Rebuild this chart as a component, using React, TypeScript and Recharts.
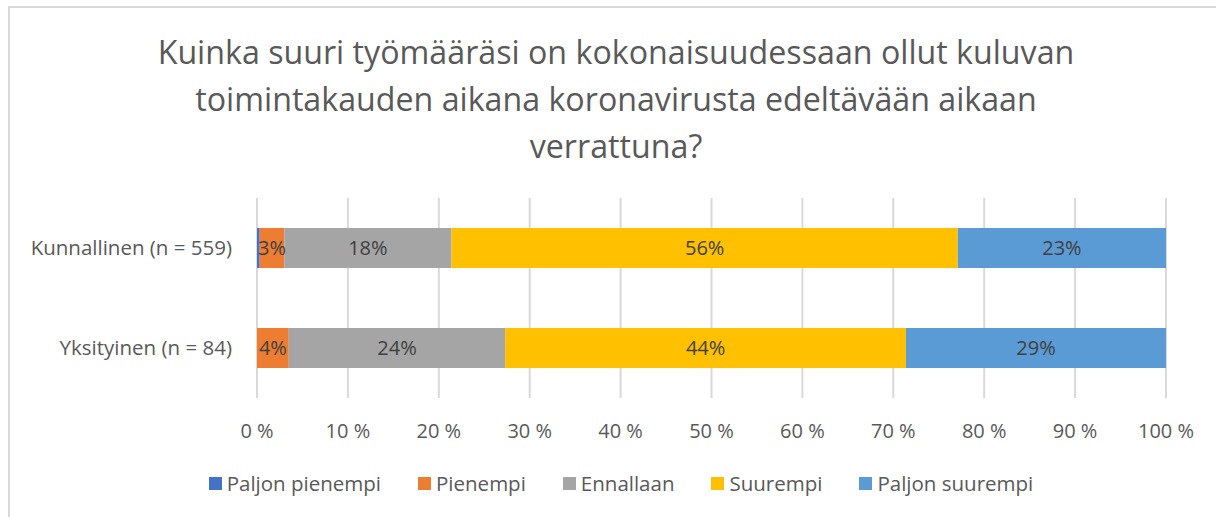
import { Bar, BarChart, CartesianGrid, LabelList, Legend, XAxis, YAxis } from "recharts";

const categories = ["Kunnallinen (n = 559)", "Yksityinen (n = 84)"];
const seriesNames = ["Paljon pienempi", "Pienempi", "Ennallaan", "Suurempi", "Paljon suurempi"];
const paljonPienempi = [0.3, 0];
const pienempi = [2.7, 3.5];
const ennallaan = [18.4, 23.8];
const suurempi = [55.7, 44.1];
const paljonSuurempi = [22.9, 28.6];
const xTicks = [0, 10, 20, 30, 40, 50, 60, 70, 80, 90, 100];

const colors = ["#4472C4", "#ED7D31", "#A5A5A5", "#FFC000", "#5B9BD5"];
const values = [paljonPienempi, pienempi, ennallaan, suurempi, paljonSuurempi];

const data = categories.map((name, i) => {
  const row: Record<string, string | number> = { name };
  seriesNames.forEach((s, j) => (row[s] = values[j][i]));
  return row;
});

const FONT = "'Open Sans', sans-serif";
const TEXT = "#595959";

function LegendContent() {
  return (
    <div
      style={{
        display: "flex",
        justifyContent: "center",
        paddingLeft: 26,
        fontFamily: FONT,
        fontSize: 20.5,
        color: TEXT,
      }}
    >
      {seriesNames.map((s, i) => (
        <div key={s} style={{ display: "flex", alignItems: "center", marginRight: i < seriesNames.length - 1 ? 37 : 0 }}>
          <span style={{ width: 13, height: 13, background: colors[i], marginRight: 5, display: "inline-block" }} />
          <span>{s}</span>
        </div>
      ))}
    </div>
  );
}

export default function App() {
  return (
    <div style={{ position: "absolute", left: 0, top: 0, width: 1216, height: 517, background: "#fff", overflow: "hidden" }}>
      <style>{"body{margin:0;overflow:hidden}"}</style>
      <div
        style={{
          position: "absolute",
          left: 8,
          top: 6,
          width: 1216,
          height: 517,
          borderTop: "2px solid #D9D9D9",
          borderLeft: "2px solid #D9D9D9",
        }}
      />
      <div
        style={{
          position: "absolute",
          left: 0,
          top: 28,
          width: 1232,
          textAlign: "center",
          fontFamily: FONT,
          fontSize: 32.2,
          lineHeight: "47px",
          color: TEXT,
        }}
      >
        Kuinka suuri työmääräsi on kokonaisuudessaan ollut kuluvan
        <br />
        toimintakauden aikana koronavirusta edeltävään aikaan
        <br />
        verrattuna?
      </div>
      <BarChart
        width={1216}
        height={517}
        data={data}
        layout="vertical"
        margin={{ top: 198, right: 50, bottom: 79, left: 0 }}
        style={{ position: "absolute", left: 0, top: 0 }}
      >
        <CartesianGrid horizontal={false} stroke="#D9D9D9" strokeWidth={2} />
        <XAxis
          type="number"
          domain={[0, 100]}
          ticks={xTicks}
          tickFormatter={(v) => `${v} %`}
          axisLine={false}
          tickLine={false}
          tickSize={0}
          tickMargin={26}
          height={40}
          tick={{ fontSize: 20, fill: TEXT, fontFamily: FONT }}
          interval={0}
        />
        <YAxis
          type="category"
          dataKey="name"
          width={257}
          axisLine={false}
          tickLine={false}
          tickSize={0}
          tickMargin={25}
          tick={{ fontSize: 20.5, fill: TEXT, fontFamily: FONT }}
        />
        <Legend
          layout="horizontal"
          verticalAlign="middle"
          align="center"
          wrapperStyle={{ top: 469, left: 0, width: 1216 }}
          content={() => <LegendContent />}
        />
        {seriesNames.map((s, i) => (
          <Bar key={s} dataKey={s} stackId="a" fill={colors[i]} barSize={40} isAnimationActive={false}>
            {i > 0 && (
              <LabelList
                dataKey={s}
                position="center"
                formatter={(v: number) => `${Math.round(v)}%`}
                style={{ fontSize: 20, fill: "#404040", fontFamily: FONT }}
              />
            )}
          </Bar>
        ))}
      </BarChart>
    </div>
  );
}
